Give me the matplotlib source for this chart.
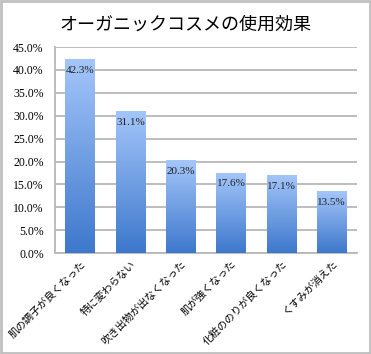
import matplotlib as mpl
mpl.use('Agg')
import matplotlib.pyplot as plt
from matplotlib.patches import Rectangle
import numpy as np

categories = ['肌の調子が良くなった', '特に変わらない', '吹き出物が出なくなった',
              '肌が強くなった', '化粧ののりが良くなった', 'くすみが消えた']
values = [42.3, 31.1, 20.3, 17.6, 17.1, 13.5]
yticks = [0, 5, 10, 15, 20, 25, 30, 35, 40, 45]

jp = ['Noto Sans CJK JP', 'DejaVu Sans']
serif = 'Liberation Serif'

fig = plt.figure(figsize=(3.71, 3.54), dpi=100)
ax = fig.add_axes([0.148, 0.285, 0.814, 0.582])

x = np.arange(len(values))
bars = ax.bar(x, values, width=0.58, color='none', zorder=3)

# vertical gradient inside each bar
grad = np.linspace(0, 1, 256).reshape(-1, 1)
cmap = mpl.colors.LinearSegmentedColormap.from_list('b', ['#3d78cc', '#a4c6fa'])
for b in bars:
    im = ax.imshow(grad, cmap=cmap, aspect='auto', origin='lower',
                   extent=[b.get_x(), b.get_x() + b.get_width(), 0, b.get_height()],
                   zorder=3)
    im.set_clip_path(b)

for xi, v in zip(x, values):
    ax.annotate('%.1f%%' % v, (xi, v), xytext=(0, -5), textcoords='offset points',
                ha='center', va='top', fontsize=8, family=serif, color='#222222',
                zorder=4)

ax.set_xlim(-0.5, len(values) - 0.5)
ax.set_ylim(0, 45)
ax.set_yticks(yticks)
ax.set_yticklabels(['%.1f%%' % t for t in yticks], family=serif, fontsize=8.5)
ax.set_xticks(x)
ax.set_xticklabels(categories, rotation=45, ha='right', va='top',
                   rotation_mode='anchor', family=jp, fontsize=7.5)
ax.tick_params(length=0, pad=8)
ax.tick_params(axis='x', pad=4)
ax.yaxis.grid(True, color='#b8b8b8', linewidth=1.3, zorder=0)
ax.set_axisbelow(True)
for s in ['top', 'right']:
    ax.spines[s].set_visible(False)
for s in ['left', 'bottom']:
    ax.spines[s].set_color('#b8b8b8')
    ax.spines[s].set_linewidth(1.3)

fig.text(0.5, 0.93, 'オーガニックコスメの使用効果', ha='center', va='center',
         fontsize=13, family=jp)

fig.patches.append(Rectangle((0.003, 0.003), 0.994, 0.994, transform=fig.transFigure,
                             fill=False, edgecolor='#c0c0c0', linewidth=2))

fig.savefig('out.png', dpi=100)
